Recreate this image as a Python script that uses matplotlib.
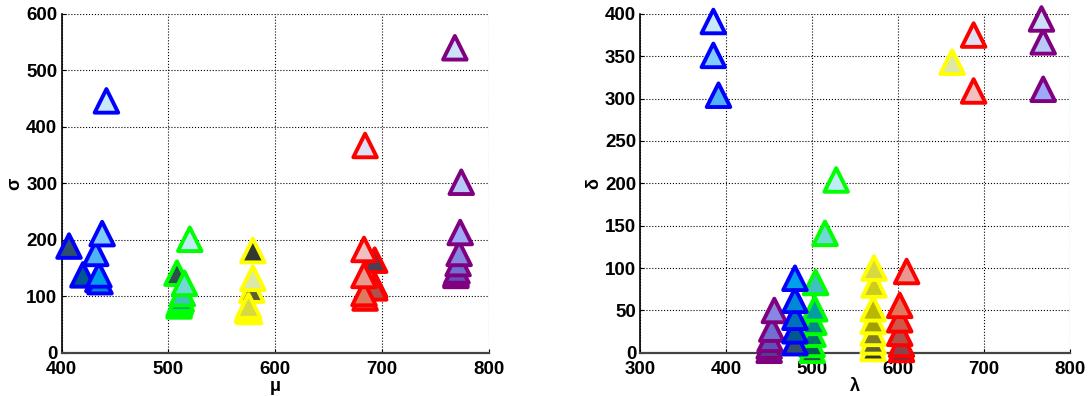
import matplotlib
matplotlib.use("Agg")
import matplotlib.pyplot as plt

# face colours of each group, light -> dark
blue_faces = ["#c8e8fc", "#80ccfc", "#50b4f4", "#00a0e8", "#0088d4", "#0070b8", "#005890", "#2f4f6f"]
green_faces = ["#c0ecf8", "#70d8d8", "#40c0c0", "#00a0a0", "#008888", "#007070", "#005858", "#2f4f4f"]
yellow_faces = ["#dde8a8", "#d8d840", "#cccc20", "#b8b800", "#a0a000", "#808020", "#605f30", "#303830"]
red_faces = ["#e0e0f4", "#f0c0c0", "#e89890", "#e07860", "#d05848", "#b05048", "#904048", "#4a4050"]
purple_faces = ["#cce0f8", "#b8c8f8", "#a0a8f8", "#8888e0", "#7070d0", "#6050b8", "#504090", "#403070"]

# left panel (mu, sigma)
blue_mu = [442, 438, 432, 435, 436, 434, 420, 407]
blue_sigma = [446, 211, 176, 138, 126, 130, 138, 189]
green_mu = [520, 515, 513, 512, 511, 510, 510, 508]
green_sigma = [201, 123, 105, 95, 90, 86, 83, 141]
yellow_mu = [579, 575, 575, 574, 574, 576, 578, 579]
yellow_sigma = [132, 83, 80, 77, 75, 73, 111, 181]
red_mu = [684, 683, 683, 683, 684, 693, 693, 693]
red_sigma = [367, 183, 137, 105, 97, 115, 120, 164]
purple_mu = [768, 774, 773, 772, 771, 770, 769, 769]
purple_sigma = [540, 302, 213, 176, 158, 145, 140, 137]

# right panel (lambda, delta)
blue_lam = [385, 385, 391, 480, 480, 480, 480, 480]
blue_delta = [391, 351, 304, 88, 62, 42, 26, 12]
green_lam = [528, 515, 504, 503, 502, 501, 500, 500]
green_delta = [204, 141, 83, 52, 36, 22, 10, 3]
yellow_lam = [663, 572, 572, 571, 571, 571, 571, 571]
yellow_delta = [343, 100, 80, 52, 37, 23, 13, 5]
red_lam = [688, 688, 610, 602, 602, 602, 604, 604]
red_delta = [375, 309, 96, 56, 39, 23, 10, 4]
purple_lam = [767, 769, 769, 456, 453, 451, 450, 450]
purple_delta = [394, 367, 311, 50, 28, 16, 8, 3]

plt.rcParams["font.family"] = ["Liberation Sans", "DejaVu Sans"]
plt.rcParams["font.weight"] = "bold"

fig = plt.figure(figsize=(10.89, 3.96), dpi=100)
ax1 = fig.add_axes([0.0565, 0.109, 0.3926, 0.856])
ax2 = fig.add_axes([0.588, 0.109, 0.3944, 0.856])

left_groups = [
    (yellow_mu, yellow_sigma, yellow_faces, "#ffff00"),
    (red_mu, red_sigma, red_faces, "#ff0000"),
    (purple_mu, purple_sigma, purple_faces, "#800080"),
    (green_mu, green_sigma, green_faces, "#00ff00"),
    (blue_mu, blue_sigma, blue_faces, "#0000ff"),
]
right_groups = [
    (yellow_lam, yellow_delta, yellow_faces, "#ffff00"),
    (red_lam, red_delta, red_faces, "#ff0000"),
    (purple_lam, purple_delta, purple_faces, "#800080"),
    (green_lam, green_delta, green_faces, "#00ff00"),
    (blue_lam, blue_delta, blue_faces, "#0000ff"),
]

for ax, groups in [(ax1, left_groups), (ax2, right_groups)]:
    for xs, ys, faces, edge in groups:
        # dark ones first, light ones on top
        ax.scatter(xs[::-1], ys[::-1], s=17 ** 2, marker="^", c=faces[::-1],
                   edgecolors=edge, linewidths=2.8, zorder=3, clip_on=False)

ax1.set_xlim(400, 800)
ax1.set_ylim(0, 600)
ax1.set_xticks([400, 500, 600, 700, 800])
ax1.set_yticks([0, 100, 200, 300, 400, 500, 600])
ax1.set_xlabel("μ", fontsize=13, fontweight="bold", labelpad=0)
ax1.set_ylabel("σ", fontsize=13, fontweight="bold", labelpad=2)

ax2.set_xlim(300, 800)
ax2.set_ylim(0, 400)
ax2.set_xticks([300, 400, 500, 600, 700, 800])
ax2.set_yticks(range(0, 401, 50))
ax2.set_xlabel("λ", fontsize=13, fontweight="bold", labelpad=0)
ax2.set_ylabel("δ", fontsize=13, fontweight="bold", labelpad=2)

for ax in (ax1, ax2):
    ax.grid(True, color="black", linestyle=":", linewidth=0.8)
    ax.set_axisbelow(True)
    ax.spines["top"].set_visible(False)
    ax.spines["right"].set_visible(False)
    ax.spines["left"].set_linewidth(1.2)
    ax.spines["bottom"].set_linewidth(1.6)
    ax.spines["bottom"].set_color("#444444")
    ax.tick_params(axis="y", direction="in", length=3, labelsize=13.5, pad=3)
    ax.tick_params(axis="x", direction="in", length=3, labelsize=13.5, pad=6)
    for lbl in ax.get_xticklabels() + ax.get_yticklabels():
        lbl.set_fontweight("bold")

fig.savefig("out.png", dpi=100)
